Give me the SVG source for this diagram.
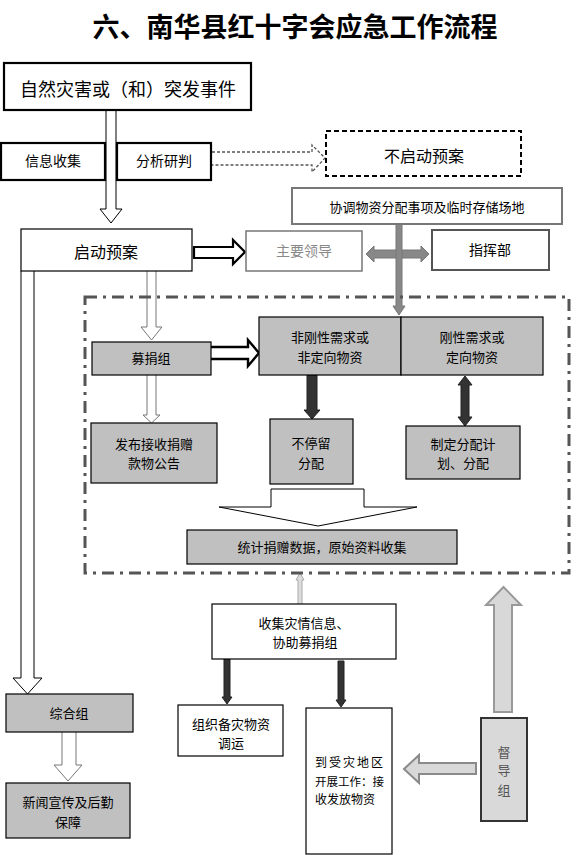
<svg xmlns="http://www.w3.org/2000/svg" width="578" height="855" viewBox="0 0 578 855">
<style>
text{font-family:"Noto Sans CJK SC","Liberation Sans",sans-serif;fill:#000;text-anchor:middle}
.t14{font-size:14px}
.t13{font-size:13px}
.box{fill:#fff;stroke:#000;stroke-width:1.2}
.bold{fill:#fff;stroke:#000;stroke-width:2.2}
.grey{fill:#c0c0c0;stroke:#000;stroke-width:1.2}
.hol{fill:#fff;stroke:#000;stroke-width:1}
.holg{fill:#fff;stroke:#777;stroke-width:1}
.dark{fill:#333;stroke:#222;stroke-width:1}
</style>
<rect width="578" height="855" fill="#fff"/>
<text x="295" y="37" style="font-size:27px;font-weight:bold;font-family:'Noto Sans CJK SC',serif">六、南华县红十字会应急工作流程</text>

<g id="connectors">
  <path class="hol" d="M106,110 V209 H100 L111,223 L122,209 H116 V110 Z"/>
  <path d="M212,152 H312 V145 L325,158 L312,172 V165 H212" fill="#fff" stroke="#555" stroke-width="1.3" stroke-dasharray="3 2"/>
  <path d="M194,247 H233 V240 L245,252 L233,264 V258 H194 Z" fill="#fff" stroke="#000" stroke-width="2.2"/>
  <path d="M366,254 L374,246 V250 H421 V246 L429,254 L421,262 V258 H374 V262 Z" fill="#888" stroke="#777" stroke-width="1"/>
  <path d="M396,224 H402 V306 H405 L399,315 L393,306 H396 Z" fill="#888" stroke="#777" stroke-width="1"/>
  <path class="hol" d="M21,271 V678 H13 L27.5,694 L42,678 H34 V271"/>
  <path class="holg" d="M147,271 V327 H141 L151.5,340 L162,327 H156 V271"/>
  <path d="M211,347 H248 V340 L259,353 L248,366 V359 H211" fill="#fff" stroke="#000" stroke-width="2.4"/>
  <path class="holg" d="M147,375 V415 H143 L151.5,423 L160,415 H156 V375"/>
  <path class="dark" d="M307,375 H317 V410 H320 L312,419 L304,410 H307 Z"/>
  <path class="dark" d="M465,376 L472,385 H469 V417 H472 L465,426 L458,417 H461 V385 H458 Z"/>
  <path d="M271,489 H364 V507 H417 L318,526 L219,507 H271 Z" fill="#fff" stroke="#000" stroke-width="1"/>
  <path class="holg" d="M62,732 V765 H54 L68,781 L82,765 H76 V732"/>
  <path d="M298,604 V580 H296 L300,573 L304,580 H302 V604" fill="#ddd" stroke="#aaa" stroke-width="1"/>
  <path class="dark" d="M224,659 H230 V697 H232 L227,704 L222,697 H224 Z"/>
  <path class="dark" d="M338,661 H344 V700 H346 L341,707 L336,700 H338 Z"/>
  <path d="M476,763 H419 V755 L404,769 L419,783 V774 H476 Z" fill="#d8d8d8" stroke="#8a8a8a" stroke-width="2"/>
  <path d="M494,712 V605 H486 L503.5,587 L521,605 H512 V712 Z" fill="#d8d8d8" stroke="#999" stroke-width="2"/>
</g>

<rect x="85" y="297" width="484" height="276" fill="none" stroke="#555" stroke-width="3" stroke-dasharray="12 6 3 6"/>

<g id="n-event"><rect class="bold" x="4" y="63" width="247" height="47"/><text x="128" y="96" style="font-size:18px">自然灾害或（和）突发事件</text></g>
<g id="n-info"><rect class="bold" x="1" y="143" width="104" height="37"/><text class="t14" x="53" y="166">信息收集</text></g>
<g id="n-analyze"><rect class="bold" x="117" y="143" width="94" height="37"/><text class="t14" x="164" y="166">分析研判</text></g>
<g id="n-nostart"><rect x="326" y="131" width="195" height="45" fill="#fff" stroke="#000" stroke-width="2" stroke-dasharray="5 3"/><text x="424" y="162" style="font-size:16px">不启动预案</text></g>
<g id="n-coord"><rect x="292" y="188" width="270" height="36" fill="#fff" stroke="#777" stroke-width="2"/><text class="t13" x="427" y="212">协调物资分配事项及临时存储场地</text></g>
<g id="n-start"><rect class="box" x="21" y="229" width="171" height="42"/><text x="106" y="258" style="font-size:16px">启动预案</text></g>
<g id="n-leader"><rect x="246" y="231" width="116" height="40" fill="#fff" stroke="#777" stroke-width="1.5"/><text class="t14" x="304" y="256" style="fill:#888">主要领导</text></g>
<g id="n-command"><rect x="432" y="230" width="117" height="40" fill="#fff" stroke="#555" stroke-width="2"/><text class="t14" x="490" y="255">指挥部</text></g>
<g id="n-fund"><rect class="grey" x="92" y="342" width="119" height="33"/><text class="t13" x="151" y="363">募捐组</text></g>
<g id="n-nonrigid"><rect class="grey" x="259" y="317" width="142" height="58"/><text class="t13" x="330" y="342">非刚性需求或</text><text class="t13" x="330" y="362">非定向物资</text></g>
<g id="n-rigid"><rect class="grey" x="401" y="317" width="142" height="58"/><text class="t13" x="472" y="342">刚性需求或</text><text class="t13" x="472" y="362">定向物资</text></g>
<g id="n-publish"><rect class="grey" x="91" y="423" width="126" height="60"/><text class="t13" x="154" y="449">发布接收捐赠</text><text class="t13" x="154" y="468">款物公告</text></g>
<g id="n-nostay"><rect class="grey" x="270" y="419" width="83" height="65"/><text class="t13" x="311" y="448">不停留</text><text class="t13" x="311" y="468">分配</text></g>
<g id="n-plan"><rect class="grey" x="406" y="426" width="114" height="53"/><text class="t13" x="463" y="449">制定分配计</text><text class="t13" x="463" y="468">划、分配</text></g>
<g id="n-stats"><rect class="grey" x="187" y="530" width="270" height="34"/><text class="t13" x="322" y="552">统计捐赠数据，原始资料收集</text></g>
<g id="n-general"><rect class="grey" x="6" y="694" width="127" height="38"/><text class="t13" x="69" y="718">综合组</text></g>
<g id="n-news"><rect class="grey" x="6" y="783" width="124" height="55"/><text class="t13" x="68" y="807">新闻宣传及后勤</text><text class="t13" x="68" y="827">保障</text></g>
<g id="n-collect"><rect class="box" x="212" y="604" width="184" height="55"/><text class="t13" x="304" y="628">收集灾情信息、</text><text class="t13" x="305" y="647">协助募捐组</text></g>
<g id="n-organize"><rect class="box" x="178" y="705" width="105" height="51"/><text class="t13" x="231" y="729">组织备灾物资</text><text class="t13" x="231" y="748">调运</text></g>
<g id="n-disaster"><rect class="box" x="306" y="708" width="86" height="146"/><text x="315" y="767" style="font-size:12px;text-anchor:start;letter-spacing:2px">到受灾地区</text><text x="315" y="786" style="font-size:11.5px;text-anchor:start">开展工作：接</text><text x="315" y="804" style="font-size:12px;text-anchor:start">收发放物资</text></g>
<g id="n-supervise"><rect x="481" y="718" width="46" height="103" fill="#d9d9d9" stroke="#333" stroke-width="2"/><text class="t13" x="504" y="757" style="fill:#555">督</text><text class="t13" x="504" y="775" style="fill:#555">导</text><text class="t13" x="504" y="795" style="fill:#555">组</text></g>
</svg>
